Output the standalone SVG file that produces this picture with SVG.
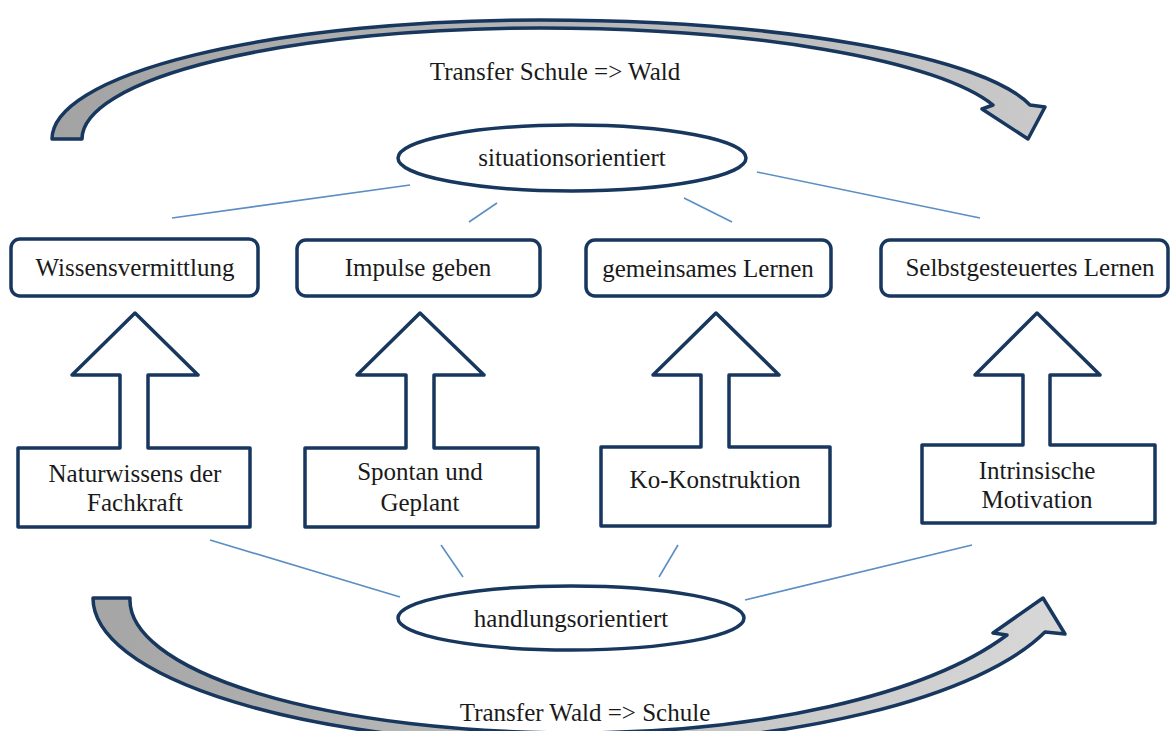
<svg xmlns="http://www.w3.org/2000/svg" width="1171" height="731" viewBox="0 0 1171 731">
<defs>
<linearGradient id="gTop" x1="0" y1="0" x2="1" y2="0">
<stop offset="0" stop-color="#a3a3a3"/>
<stop offset="1" stop-color="#c9c9c9"/>
</linearGradient>
<linearGradient id="gBot" x1="0" y1="0" x2="1" y2="0">
<stop offset="0" stop-color="#a5a5a5"/>
<stop offset="1" stop-color="#d8d8d8"/>
</linearGradient>
</defs>
<style>
.shape{fill:#ffffff;stroke:#17375e;stroke-width:3.5;stroke-linejoin:round}
.band{stroke:#17375e;stroke-width:3.5;stroke-linejoin:round}
.t{font-family:"Liberation Serif","Times New Roman",serif;font-size:25px;fill:#1a1a1a;text-anchor:middle}
.con{stroke:#5b8ec2;stroke-width:1.6;fill:none}
</style>
<rect width="1171" height="731" fill="#ffffff"/>

<g id="transfer-top">
<path class="band" fill="url(#gTop)" d="M52,139 A488,119 0 0 1 540,20 A500,106 0 0 1 1030,105 L1045,107 L1028,139 L982,109 L993,105 A470,105 0 0 0 540,28 A458,111 0 0 0 82,139 Z"/>
<text class="t" x="555" y="80">Transfer Schule =&gt; Wald</text>
</g>

<g id="transfer-bottom">
<path class="band" fill="url(#gBot)" d="M93,598 A482,147 0 0 0 575,745 A500,165 0 0 0 1045,632 L1065,634 L1043,598 L993,633 L1007,635 A480,174 0 0 1 575,733 A445,133 0 0 1 130,598 Z"/>
<text class="t" x="585" y="721">Transfer Wald =&gt; Schule</text>
</g>

<g id="connectors">
<line class="con" x1="172" y1="218" x2="410" y2="185"/>
<line class="con" x1="469" y1="222" x2="497" y2="203"/>
<line class="con" x1="684" y1="198" x2="732" y2="222"/>
<line class="con" x1="757" y1="172" x2="980" y2="218"/>
<line class="con" x1="210" y1="540" x2="400" y2="597"/>
<line class="con" x1="441" y1="545" x2="463" y2="577"/>
<line class="con" x1="678" y1="545" x2="659" y2="577"/>
<line class="con" x1="972" y1="545" x2="745" y2="600"/>
</g>

<g id="situationsorientiert">
<ellipse class="shape" cx="572" cy="158" rx="174" ry="33"/>
<text class="t" x="572" y="166">situationsorientiert</text>
</g>

<g id="handlungsorientiert">
<ellipse class="shape" cx="571" cy="618" rx="173" ry="32"/>
<text class="t" x="571" y="627">handlungsorientiert</text>
</g>

<g id="wissensvermittlung">
<rect class="shape" x="11" y="239" width="247" height="57" rx="9"/>
<text class="t" x="135" y="276">Wissensvermittlung</text>
</g>
<g id="impulse-geben">
<rect class="shape" x="297" y="240" width="243" height="56" rx="9"/>
<text class="t" x="418" y="276">Impulse geben</text>
</g>
<g id="gemeinsames-lernen">
<rect class="shape" x="586" y="240" width="245" height="56" rx="9"/>
<text class="t" x="708" y="277">gemeinsames Lernen</text>
</g>
<g id="selbstgesteuertes-lernen">
<rect class="shape" x="881" y="240" width="287" height="56" rx="9"/>
<text class="t" x="1030" y="276">Selbstgesteuertes Lernen</text>
</g>

<g id="naturwissens">
<path class="shape" d="M18,448 L120,448 L120,375 L72,375 L135,313 L198,375 L148,375 L148,448 L250,448 L250,527 L18,527 Z"/>
<text class="t" x="135" y="482">Naturwissens der</text>
<text class="t" x="135" y="511">Fachkraft</text>
</g>
<g id="spontan">
<path class="shape" d="M305,448 L406,448 L406,375 L357,375 L420,313 L484,375 L434,375 L434,448 L538,448 L538,527 L305,527 Z"/>
<text class="t" x="420" y="480">Spontan und</text>
<text class="t" x="420" y="511">Geplant</text>
</g>
<g id="ko-konstruktion">
<path class="shape" d="M601,447 L701,447 L701,375 L653,375 L716,313 L779,375 L729,375 L729,447 L830,447 L830,526 L601,526 Z"/>
<text class="t" x="715" y="488">Ko-Konstruktion</text>
</g>
<g id="intrinsische-motivation">
<path class="shape" d="M922,445 L1023,445 L1023,375 L975,375 L1037,313 L1100,375 L1050,375 L1050,445 L1155,445 L1155,523 L922,523 Z"/>
<text class="t" x="1037" y="479">Intrinsische</text>
<text class="t" x="1037" y="508">Motivation</text>
</g>
</svg>
